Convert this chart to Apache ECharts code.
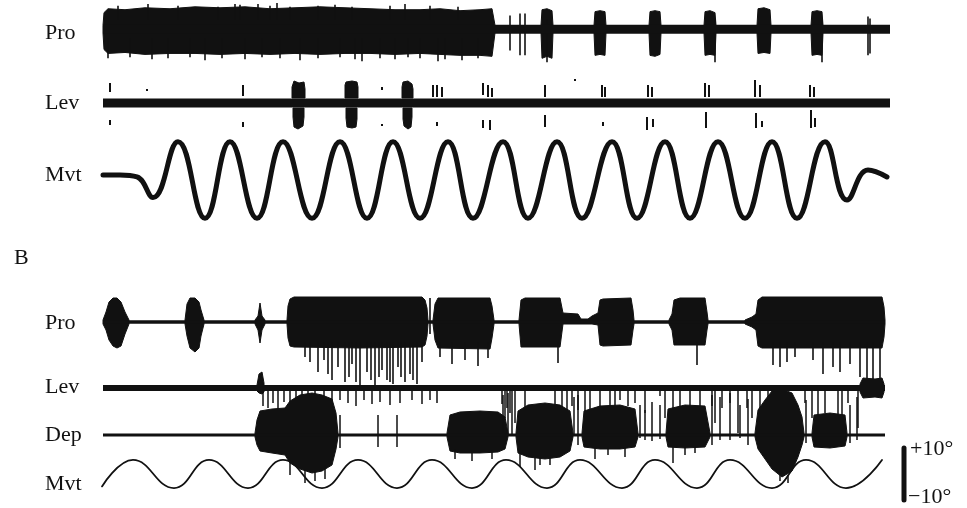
<!DOCTYPE html>
<html><head><meta charset="utf-8">
<script src="https://cdn.jsdelivr.net/npm/echarts@6/dist/echarts.min.js"></script>
<style>html,body{margin:0;padding:0;background:#fff}#c{width:967px;height:508px}</style>
</head><body><div id="c"></div>
<script>
// ---------- DATA (time in arbitrary units, EMG amplitude in arbitrary units, Mvt in degrees) ----------
const labelsA = ['Pro', 'Lev', 'Mvt'];
const labelsB = ['Pro', 'Lev', 'Dep', 'Mvt'];
const panelB = 'B';
const scaleBarDeg = [-10, 10];
const scaleBarTexts = ['+10°', '−10°'];

// Panel A, Pro (baseline extent, bursts as envelopes [t, upper, lower], spikes [t, from, to])
const proA_extent = [3, 790];
const proA_bursts = [
  [[3,4,-4],[4,17,-21],[8,21,-25],[25,20,-24],[45,22,-26],[70,21,-25],[95,23,-25],[120,22,-26],[145,23,-25],[170,21,-26],[195,22,-25],[220,23,-26],[245,22,-25],[270,21,-25],[295,20,-26],[320,20,-25],[340,21,-26],[360,19,-27],[380,20,-27],[392,21,-28],[395,4,-4]],
  [[441,4,-4],[442,20,-30],[447,21,-28],[452,19,-30],[453,4,-4]],
  [[494,4,-4],[495,18,-27],[500,19,-26],[505,18,-27],[506,4,-4]],
  [[549,4,-4],[550,18,-27],[555,19,-28],[560,18,-26],[561,4,-4]],
  [[604,4,-4],[605,18,-27],[610,19,-26],[615,17,-27],[616,4,-4]],
  [[657,4,-4],[658,21,-25],[664,22,-24],[670,20,-25],[671,4,-4]],
  [[711,4,-4],[712,18,-27],[717,19,-26],[722,18,-27],[723,4,-4]]
];
const proA_spikes = [
  [18,24,10],[48,26,10],[78,24,10],[118,23,10],[135,26,10],[140,25,10],[158,26,10],[170,24,10],[177,27,10],[190,23,10],[218,24,10],[235,25,10],[252,23,10],[290,24,10],[305,26,10],[330,24,10],[358,23,10],
  [8,-10,-30],[30,-10,-29],[52,-10,-31],[68,-10,-30],[90,-10,-29],[105,-10,-32],[122,-10,-30],[145,-10,-31],[162,-10,-29],[180,-10,-30],[200,-10,-32],[218,-10,-30],[240,-10,-29],[255,-10,-31],[262,-10,-33],[280,-10,-30],[295,-10,-31],[308,-10,-29],[320,-10,-30],[338,-10,-33],[345,-10,-31],[362,-10,-32],[378,-10,-30],
  [410,14,-22],[420,16,-27],[425,16,-27],[447,10,-34],[615,10,-34],[722,10,-34],[768,13,-27],[770,11,-25]
];

// Panel A, Lev
const levA_extent = [3, 790];
const levA_bursts = [
  [[192,16,5],[194,22,5],[199,20,5],[204,21,5],[205,14,5]],
  [[193,-5,-14],[194,-5,-24],[198,-5,-26],[203,-5,-23],[204,-5,-14]],
  [[245,18,5],[246,21,5],[252,22,5],[257,21,5],[258,16,5]],
  [[246,-5,-15],[247,-5,-24],[252,-5,-25],[256,-5,-24],[257,-5,-16]],
  [[302,16,5],[303,21,5],[308,22,5],[312,19,5],[313,14,5]],
  [[303,-5,-16],[304,-5,-23],[308,-5,-26],[311,-5,-24],[312,-5,-14]]
];
const levA_spikes = [
  [10,20,11],[10,-17,-22],[47,14,12],[143,18,7],[143,-19,-24],[282,16,13],[282,-21,-23],[333,18,6],[337,18,6],[337,-19,-23],[342,16,6],
  [383,20,8],[388,18,6],[392,15,6],[383,-17,-25],[390,-17,-27],[445,18,6],[445,-12,-24],[475,24,22],[502,18,6],[505,16,6],[503,-19,-23],
  [548,18,6],[552,16,6],[547,-14,-27],[553,-16,-24],[605,20,6],[609,18,6],[606,-9,-25],[655,23,6],[660,18,6],[656,-10,-25],[662,-18,-24],
  [710,18,6],[714,16,6],[711,-7,-25],[715,-15,-24]
];

// Panel A, Mvt (read extremes, degrees)
const mvtA_points = [
  [3,1.3],[20,1.3],[37,0.8],[53,-4.6],[78,10],[105,-10],[130,10],[157,-10],[183,10],[212,-10],[240,10],[267,-10],[293,10],[320,-10],
  [348,10],[373,-10],[403,10],[428,-10],[457,10],[482,-10],[512,10],[537,-10],[565,10],[590,-10],[618,10],[645,-10],[672,10],[697,-10],
  [725,10],[747,-5.2],[768,2.6],[787,0.8]
];

// Panel B, Pro
const proB_extent = [3, 785];
const proB_bursts = [
  [[3,2,-2],[6,10,-8],[9,20,-18],[13,24,-24],[17,24,-26],[21,20,-24],[25,10,-12],[29,2,-2]],
  [[85,2,-2],[87,18,-14],[90,24,-26],[95,24,-30],[99,20,-26],[101,12,-14],[104,2,-2]],
  [[155,2,-2],[158,6,-8],[160,19,-21],[162,6,-8],[165,2,-2]],
  [[187,2,-2],[188,16,-16],[190,23,-24],[194,25,-25],[260,25,-26],[322,25,-25],[325,22,-23],[327,14,-14],[328,2,-2]],
  [[333,2,-2],[335,18,-18],[338,24,-26],[390,24,-27],[392,16,-16],[394,2,-2]],
  [[419,2,-2],[421,22,-25],[425,24,-25],[460,24,-25],[463,9,-2],[478,8,-2],[481,3,-2],[488,3,-2],[492,6,-2],[498,9,-3],[500,22,-23],[503,23,-24],[531,24,-23],[533,12,-8],[534,2,-2]],
  [[569,2,-2],[572,8,-8],[574,22,-23],[580,24,-23],[605,24,-23],[607,10,-8],[608,2,-2]],
  [[645,2,-2],[652,5,-5],[656,8,-8],[658,22,-24],[662,25,-26],[782,25,-26],[784,15,-15],[785,2,-2]]
];
const proB_spikes = [
  [330,24,-12],[458,-20,-41],[597,-20,-43],
  [205,-20,-35],[210,-20,-40],[218,-20,-50],[224,-20,-38],[232,-20,-58],[238,-20,-45],[245,-20,-60],[252,-20,-42],[260,-20,-63],[267,-20,-50],[275,-20,-63],[282,-20,-48],[287,-20,-58],[293,-20,-62],[298,-20,-45],[305,-20,-60],[310,-20,-52],[317,-20,-62],[322,-20,-40],
  [228,-20,-52],[249,-20,-55],[256,-20,-60],[271,-20,-58],[279,-20,-55],[290,-20,-60],[301,-20,-55],[313,-20,-58],
  [340,-20,-35],[352,-20,-42],[365,-20,-38],[378,-20,-44],[388,-20,-36],
  [673,-20,-43],[680,-20,-45],[687,-20,-40],[695,-20,-35],[713,-20,-38],[723,-20,-52],[733,-20,-45],[740,-20,-50],[750,-20,-42],[760,-20,-55],[767,-20,-62],[773,-20,-65],[780,-20,-63]
];

// Panel B, Lev
const levB_extent = [3, 785];
const levB_bursts = [
  [[157,3,-3],[159,14,-5],[162,16,-6],[164,5,-4]],
  [[760,4,-4],[763,10,-10],[775,9,-9],[782,10,-10],[784,4,-4]]
];
const levB_spikes = [
  [163,0,-18],[168,0,-20],[173,0,-15],[178,0,-22],[184,0,-14],[190,0,-20],[196,0,-25],[202,0,-22],[208,0,-18],[215,0,-14],[224,0,-20],[232,0,-16],
  [240,0,-12],[248,0,-15],[256,0,-18],[264,0,-12],[272,0,-16],[280,0,-14],[290,0,-17],[300,0,-15],[312,0,-12],[322,0,-16],[330,0,-12],[337,0,-15],
  [402,0,-16],[407,0,-20],[412,0,-12],[472,0,-18],[478,0,-22],[520,0,-12],[528,0,-18],[560,0,-8],[573,0,-75],[612,0,-18],[622,0,-20],[630,0,-15],
  [638,0,-45],[647,0,-20],[705,0,-15],[738,0,-42],[748,0,-15],[758,0,-40],
  [405,0,-30],[410,0,-25],[415,0,-35],[425,0,-20],[455,0,-25],[462,0,-30],[467,0,-22],[485,0,-30],[490,0,-35],[500,0,-28],[510,0,-32],[515,0,-25],
  [535,0,-15],[545,0,-25],[565,0,-30],[580,0,-35],[590,0,-25],[600,0,-30],[615,0,-35],[652,0,-30],[660,0,-35],[668,0,-40],[712,0,-30],[718,0,-35],[725,0,-25],[742,0,-30]
];

// Panel B, Dep
const depB_extent = [3, 785];
const depB_bursts = [
  [[155,2,-2],[157,15,-10],[160,24,-16],[172,26,-18],[185,27,-20],[190,34,-28],[200,40,-34],[212,42,-38],[222,40,-36],[232,36,-30],[236,22,-14],[238,2,-2]],
  [[347,2,-2],[350,20,-16],[360,23,-18],[380,24,-18],[398,23,-17],[405,18,-14],[408,2,-2]],
  [[416,2,-2],[418,24,-18],[428,30,-22],[445,32,-24],[460,30,-22],[470,24,-16],[473,2,-2]],
  [[482,2,-2],[484,24,-12],[500,29,-14],[520,30,-14],[535,26,-12],[538,2,-2]],
  [[566,2,-2],[568,26,-12],[585,30,-13],[605,29,-12],[610,2,-2]],
  [[655,2,-2],[658,25,-14],[665,35,-24],[672,44,-34],[682,46,-42],[692,42,-36],[698,30,-22],[702,18,-10],[704,2,-2]],
  [[712,2,-2],[714,20,-12],[730,22,-13],[745,20,-11],[747,2,-2]]
];
const depB_spikes = [
  [240,20,-13],[278,20,-12],[297,20,-12],[205,-34,-48],[215,-36,-46],[225,-30,-44],[190,-25,-40],
  [403,40,0],[408,42,0],[412,35,0],[474,38,0],[478,40,-10],[540,30,-3],[545,25,-5],[552,33,-6],[560,30,-4],
  [612,40,-10],[620,38,-5],[630,42,-5],[640,30,-3],[648,36,-10],[706,35,-8],[750,30,-8],[757,38,-5],
  [420,-18,-32],[435,-22,-35],[450,-22,-30],[495,-12,-24],[525,-12,-22],[585,-12,-20],[688,-40,-48],
  [355,-14,-24],[372,-16,-26],[392,-15,-24],[440,-22,-30],[508,-12,-20],[595,-12,-18],[680,-38,-46]
];

// Panel B, Mvt (degrees)
const mvtB_points = [
  [2,-4.6],[33,5.2],[74,-5.2],[109,5.2],[148,-5.2],[183,5.2],[222,-5.2],[258,5.2],[297,-5.2],[332,5.2],[372,-5.2],
  [406,5.2],[447,-5.2],[480,5.2],[522,-5.2],[555,5.2],[597,-5.2],[630,5.2],[672,-5.2],[706,5.2],[746,-5.2],[782,5.2]
];
const scaleBarTime = 804;

// ---------- LAYOUT & STYLE ----------
const INK = '#111';
const FONT = '"Liberation Serif", "Times New Roman", serif';
const LEFT = 100, WIDTH = 800, TMAX = 800;

const emgTraces = [
  {label:'Pro', labelY:33, baseline:28, up:30, down:40, lw:9, spikeW:1.6, extent:proA_extent, bursts:proA_bursts, spikes:proA_spikes},
  {label:'Lev', labelY:103, baseline:103, up:28, down:30, lw:9, spikeW:2, extent:levA_extent, bursts:levA_bursts, spikes:levA_spikes},
  {label:'Pro', labelY:323, baseline:322, up:30, down:70, lw:3.5, spikeW:1.6, extent:proB_extent, bursts:proB_bursts, spikes:proB_spikes},
  {label:'Lev', labelY:387, baseline:388, up:20, down:80, lw:6, spikeW:1.5, extent:levB_extent, bursts:levB_bursts, spikes:levB_spikes},
  {label:'Dep', labelY:435, baseline:435, up:50, down:55, lw:3, spikeW:1.5, extent:depB_extent, bursts:depB_bursts, spikes:depB_spikes}
];
const mvtTraces = [
  {label:'Mvt', labelY:175, center:180, pxPerDeg:3.83, lw:5, points:mvtA_points, width:WIDTH, tmax:TMAX},
  {label:'Mvt', labelY:484, center:474, pxPerDeg:2.7, lw:1.8, points:mvtB_points, width:850, tmax:850}
];

const grids = [], xAxes = [], yAxes = [], series = [];
function addAxes(top, height, ymin, ymax, width, tmax) {
  grids.push({left: LEFT, top: top, width: width, height: height});
  const i = grids.length - 1;
  xAxes.push({type:'value', gridIndex:i, min:0, max:tmax, show:false});
  yAxes.push({type:'value', gridIndex:i, min:ymin, max:ymax, show:false});
  return i;
}

emgTraces.forEach(tr => {
  const gi = addAxes(tr.baseline - tr.up, tr.up + tr.down, -tr.down, tr.up, WIDTH, TMAX);
  series.push({
    type:'line', xAxisIndex:gi, yAxisIndex:gi, symbol:'none', silent:true, animation:false,
    data:[[tr.extent[0], 0], [tr.extent[1], 0]],
    lineStyle:{color:INK, width:tr.lw}
  });
  const bursts = tr.bursts;
  series.push({
    type:'custom', xAxisIndex:gi, yAxisIndex:gi, silent:true, animation:false,
    data: bursts.map((b, i) => [b[0][0], 0, i]),
    encode:{x:0, y:1},
    renderItem: function (params, api) {
      const b = bursts[params.dataIndex];
      const top = b.map(p => api.coord([p[0], p[1]]));
      const bot = b.slice().reverse().map(p => api.coord([p[0], p[2]]));
      return {type:'polygon', shape:{points: top.concat(bot)}, style:{fill: INK, stroke: INK, lineWidth: 1}};
    }
  });
  series.push({
    type:'custom', xAxisIndex:gi, yAxisIndex:gi, silent:true, animation:false,
    data: tr.spikes,
    encode:{x:0, y:1},
    renderItem: function (params, api) {
      const p1 = api.coord([api.value(0), api.value(1)]);
      const p2 = api.coord([api.value(0), api.value(2)]);
      return {type:'line', shape:{x1:p1[0], y1:p1[1], x2:p2[0], y2:p2[1]}, style:{stroke: INK, lineWidth: tr.spikeW}};
    }
  });
});

mvtTraces.forEach((tr, k) => {
  const top = tr.center - 12 * tr.pxPerDeg, h = 24 * tr.pxPerDeg;
  const gi = addAxes(top, h, -12, 12, tr.width, tr.tmax);
  series.push({
    type:'line', xAxisIndex:gi, yAxisIndex:gi, symbol:'none', smooth:0.45, silent:true, animation:false,
    data: tr.points, lineStyle:{color:INK, width:tr.lw, cap:'round', join:'round'}
  });
  if (k === 1) {
    series.push({
      type:'custom', xAxisIndex:gi, yAxisIndex:gi, silent:true, animation:false,
      data:[[scaleBarTime, scaleBarDeg[0], scaleBarDeg[1]]],
      encode:{x:0, y:1},
      renderItem: function (params, api) {
        const lo = api.coord([api.value(0), api.value(1)]);
        const hi = api.coord([api.value(0), api.value(2)]);
        return {type:'group', children:[
          {type:'line', shape:{x1:lo[0], y1:lo[1]-1, x2:hi[0], y2:hi[1]+1}, style:{stroke:INK, lineWidth:5, lineCap:'round'}},
          {type:'text', x:hi[0]+6, y:hi[1]+2, style:{text:scaleBarTexts[0], font:'22px ' + FONT, fill:INK, verticalAlign:'middle'}},
          {type:'text', x:lo[0]+4, y:lo[1]-4, style:{text:scaleBarTexts[1], font:'22px ' + FONT, fill:INK, verticalAlign:'middle'}}
        ]};
      }
    });
  }
});

const graphic = [];
emgTraces.concat(mvtTraces).forEach(tr => {
  graphic.push({type:'text', x:45, y:tr.labelY, style:{text:tr.label, font:'22px ' + FONT, fill:INK, verticalAlign:'middle'}});
});
graphic.push({type:'text', x:14, y:258, style:{text:panelB, font:'22px ' + FONT, fill:INK, verticalAlign:'middle'}});

const chart = echarts.init(document.getElementById('c'), null, {renderer:'canvas'});
chart.setOption({
  backgroundColor:'#fff',
  animation:false,
  grid:grids, xAxis:xAxes, yAxis:yAxes, series:series, graphic:graphic
});
</script></body></html>
